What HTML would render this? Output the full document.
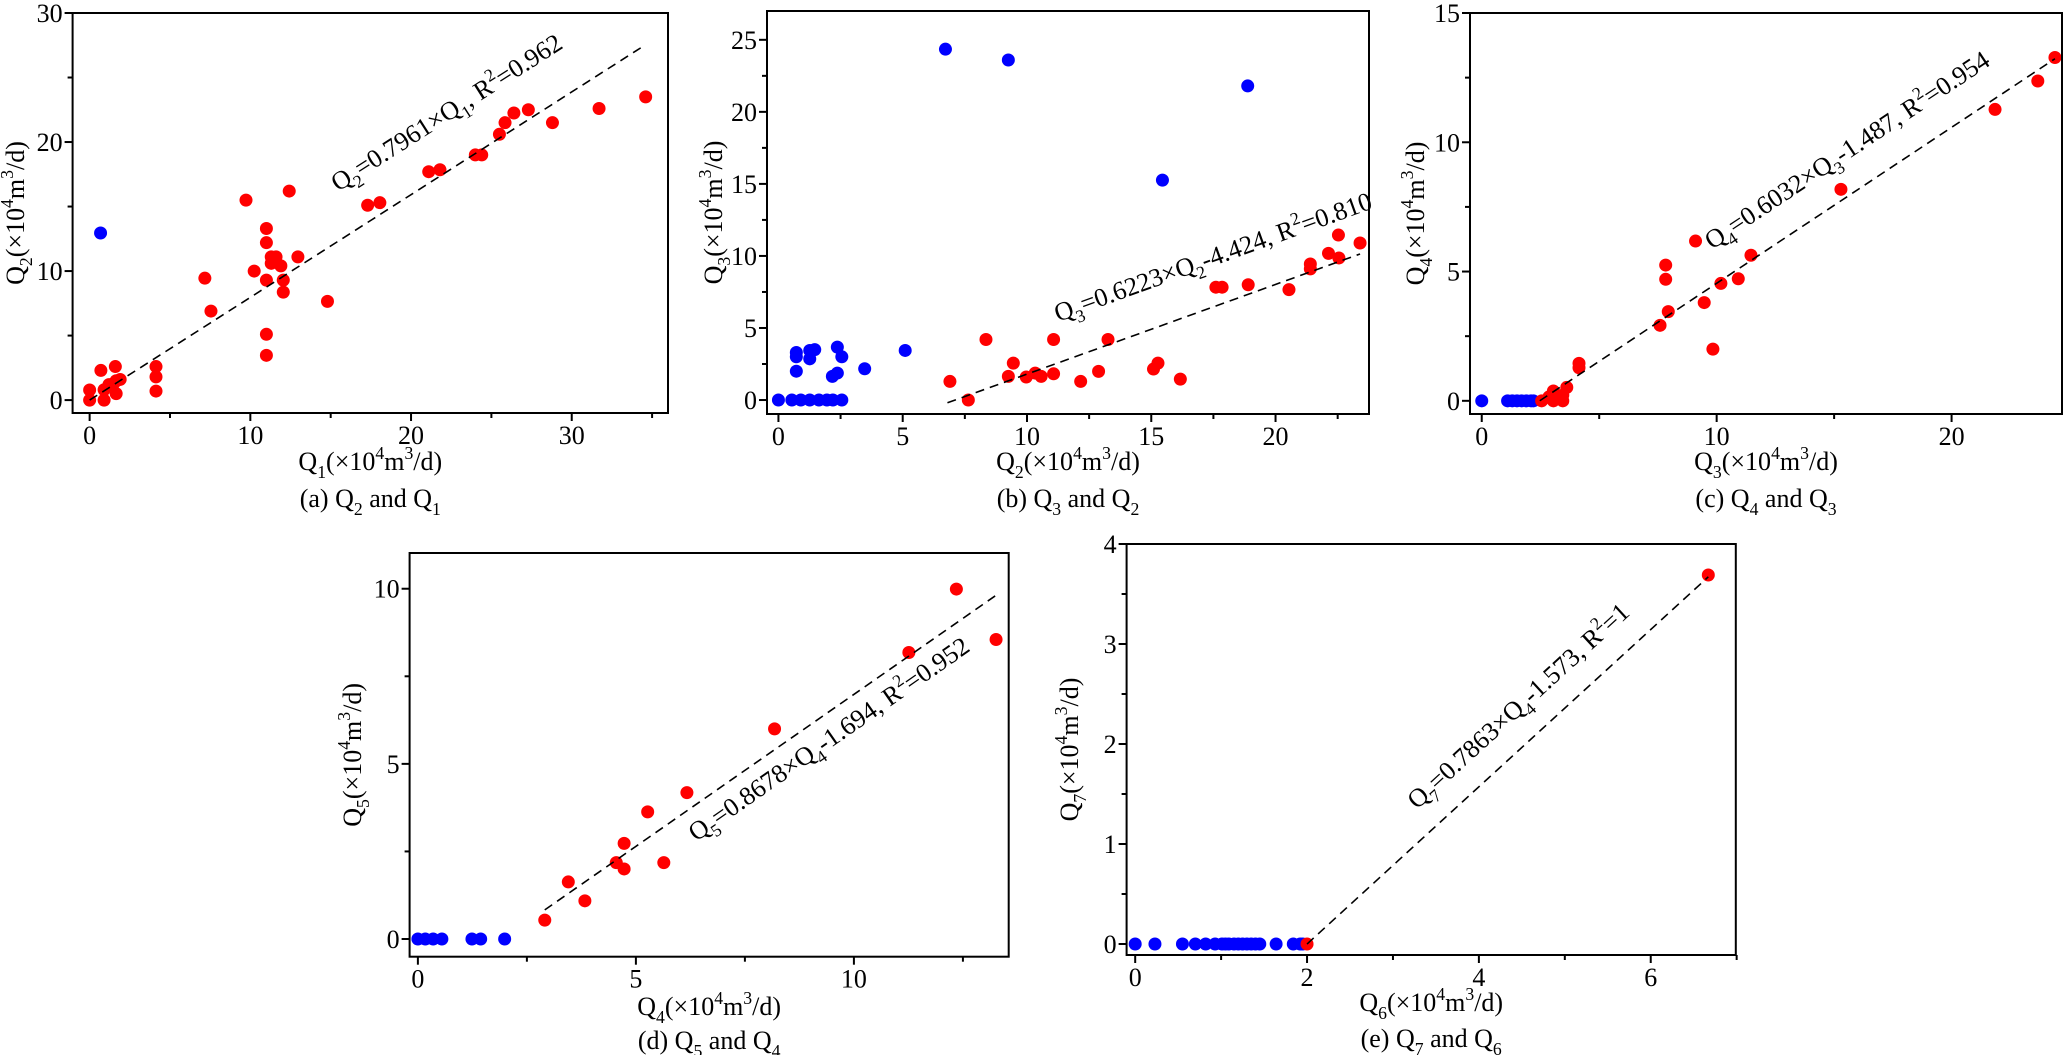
<!DOCTYPE html>
<html><head><meta charset="utf-8"><style>
html,body{margin:0;padding:0;background:#fff;}
svg{display:block;font-family:"Liberation Serif","DejaVu Serif",serif;}
text{font-family:"Liberation Serif","DejaVu Serif",serif;}
</style></head><body>
<svg id="fig" width="2067" height="1055" viewBox="0 0 2067 1055" xmlns="http://www.w3.org/2000/svg" font-family="Liberation Serif, DejaVu Serif, serif"></svg>
<script>
// ---------- DATA ----------
const aRedX=[0,0,0.9,0.7,1.6,1.65,1.65,1.5,1.2,0.9,1.9,4.13,4.13,4.13,7.17,7.55,9.73,10.24,11.0,11.0,11.0,11.0,11.0,11.3,11.6,11.3,11.9,12.05,12.05,12.42,12.96,14.8,17.3,18.06,21.1,21.8,24.0,24.4,25.5,25.85,26.4,27.3,28.8,31.7,34.6];
const aRedY=[0,0.78,0,2.3,2.6,1.5,0.5,1.3,1.2,0.8,1.6,2.6,1.8,0.7,9.45,6.9,15.5,10.0,13.3,12.2,9.3,5.1,3.47,11.1,11.1,10.6,10.4,9.3,8.37,16.2,11.1,7.65,15.1,15.3,17.7,17.85,19.0,19.0,20.6,21.5,22.25,22.5,21.5,22.6,23.5];
const aBlueX=[0.68];
const aBlueY=[12.95];
const bBlueX=[6.72,9.25,18.88,15.45,5.1,3.47,0.72,0.72,1.26,1.26,1.46,2.37,2.55,0.72,2.17,2.37,0,0.54,0.9,1.26,1.63,1.95,2.19,2.55];
const bBlueY=[24.35,23.6,21.8,15.26,3.44,2.17,3.3,3.0,3.44,2.86,3.5,3.67,3.0,2.0,1.64,1.87,0,0,0,0,0,0,0,0];
const bRedX=[6.9,7.64,8.35,9.25,9.45,9.97,10.33,10.57,11.07,11.07,12.16,12.88,13.26,15.09,15.27,16.17,17.6,17.85,18.9,20.54,21.4,21.4,22.13,22.53,22.55,23.4];
const bRedY=[1.29,0,4.2,1.64,2.56,1.6,1.87,1.64,4.2,1.82,1.29,1.99,4.2,2.15,2.56,1.45,7.83,7.83,8.0,7.66,9.44,9.1,10.18,11.45,9.86,10.9];
const cBlueX=[0,1.1,1.3,1.5,1.7,1.9,2.1,2.2];
const cBlueY=[0,0,0,0,0,0,0,0];
const cRedX=[2.55,2.86,3.05,3.05,3.45,3.45,3.62,4.14,4.14,7.59,7.94,7.83,7.83,9.1,9.47,9.84,10.18,10.92,11.46,15.29,21.85,23.67,24.4];
const cRedY=[0,0.15,0.38,0,0,0.22,0.52,1.45,1.28,2.92,3.45,5.25,4.7,6.18,3.8,2.0,4.54,4.72,5.63,8.18,11.27,12.37,13.28];
const dBlueX=[0,0.17,0.35,0.55,1.24,1.44,1.99];
const dBlueY=[0,0,0,0,0,0,0];
const dRedX=[2.91,3.45,3.83,4.55,4.73,4.73,5.64,5.27,6.17,8.18,11.26,12.35,13.26];
const dRedY=[0.54,1.63,1.09,2.18,2.0,2.73,2.18,3.63,4.18,6.0,8.18,9.99,8.55];
const eBlueX=[0,0.23,0.55,0.70,0.82,0.93,1.01,1.05,1.09,1.15,1.2,1.25,1.3,1.35,1.4,1.45,1.64,1.84,1.92,1.95];
const eBlueY=[0,0,0,0,0,0,0,0,0,0,0,0,0,0,0,0,0,0,0,0];
const eRedX=[2.0,6.67];
const eRedY=[0,3.69];
// fit lines: slope, intercept, x-start, x-end
const fitA=[0.7961,0,0,34.6];
const fitB=[0.6223,-4.424,6.8,23.4];
const fitC=[0.6032,-1.487,2.47,24.4];
const fitD=[0.8678,-1.694,2.91,13.32];
const fitE=[0.7863,-1.573,2.0,6.67];
// tick labels
const aXTicks=[0,10,20,30], aYTicks=[0,10,20,30];
const bXTicks=[0,5,10,15,20], bYTicks=[0,5,10,15,20,25];
const cXTicks=[0,10,20], cYTicks=[0,5,10,15];
const dXTicks=[0,5,10], dYTicks=[0,5,10];
const eXTicks=[0,2,4,6], eYTicks=[0,1,2,3,4];

// ---------- LAYOUT ----------
const NS="http://www.w3.org/2000/svg";
const FF="Liberation Serif, DejaVu Serif, serif";
const svg=document.getElementById('fig');
function el(tag,attrs,parent){const e=document.createElementNS(NS,tag);for(const k in attrs)e.setAttribute(k,attrs[k]);if(tag==='text')e.setAttribute('font-family',FF);(parent||svg).appendChild(e);return e;}
function rich(t,str,fs){
  const re=/(_\{[^}]*\}|\^\{[^}]*\})/g;const parts=str.split(re);let shift=0;
  parts.forEach(p=>{if(!p)return;const ts=document.createElementNS(NS,'tspan');let target=0,txt=p,size=fs;
    if(p.startsWith('_{')){target=fs*0.3;txt=p.slice(2,-1);size=fs*0.68;}
    else if(p.startsWith('^{')){target=-fs*0.42;txt=p.slice(2,-1);size=fs*0.68;}
    ts.setAttribute('dy',(target-shift).toFixed(2));shift=target;ts.setAttribute('font-size',size.toFixed(1));ts.textContent=txt;t.appendChild(ts);});
}
const FS=26;
const panels=[
 {id:'a',L:72.6,R:668,T:13,B:413,x0:-1.06,x1:35.99,y0:-1.0,y1:30,xt:aXTicks,xm:[5,15,25,35],yt:aYTicks,ym:[5,15,25],
  red:[aRedX,aRedY],blue:[aBlueX,aBlueY],fit:fitA,xl:'Q_{1}(×10^{4}m^{3}/d)',yl:'Q_{2}(×10^{4}m^{3}/d)',cap:'(a) Q_{2} and Q_{1}',
  eq:'Q_{2}=0.7961×Q_{1}, R^{2}=0.962',eqx:338,eqy:192,ylx:24,xly:470,capy:507},
 {id:'b',L:767,R:1369,T:11,B:414,x0:-0.46,x1:23.76,y0:-0.97,y1:27.0,xt:bXTicks,xm:[2.5,7.5,12.5,17.5,22.5],yt:bYTicks,ym:[2.5,7.5,12.5,17.5,22.5],
  red:[bRedX,bRedY],blue:[bBlueX,bBlueY],fit:fitB,xl:'Q_{2}(×10^{4}m^{3}/d)',yl:'Q_{3}(×10^{4}m^{3}/d)',cap:'(b) Q_{3} and Q_{2}',
  eq:'Q_{3}=0.6223×Q_{2}-4.424, R^{2}=0.810',eqx:1058,eqy:322,ylx:722,xly:470,capy:507},
 {id:'c',L:1470,R:2062,T:13,B:414,x0:-0.5,x1:24.7,y0:-0.51,y1:15.0,xt:cXTicks,xm:[5,15],yt:cYTicks,ym:[2.5,7.5,12.5],
  red:[cRedX,cRedY],blue:[cBlueX,cBlueY],fit:fitC,xl:'Q_{3}(×10^{4}m^{3}/d)',yl:'Q_{4}(×10^{4}m^{3}/d)',cap:'(c) Q_{4} and Q_{3}',
  eq:'Q_{4}=0.6032×Q_{3}-1.487, R^{2}=0.954',eqx:1712,eqy:250,ylx:1424,xly:470,capy:507},
 {id:'d',L:409.6,R:1008.7,T:553,B:956.7,x0:-0.19,x1:13.55,y0:-0.505,y1:11.02,xt:dXTicks,xm:[2.5,7.5,12.5],yt:dYTicks,ym:[2.5,7.5],
  red:[dRedX,dRedY],blue:[dBlueX,dBlueY],fit:fitD,xl:'Q_{4}(×10^{4}m^{3}/d)',yl:'Q_{5}(×10^{4}m^{3}/d)',cap:'(d) Q_{5} and Q_{4}',
  eq:'Q_{5}=0.8678×Q_{4}-1.694, R^{2}=0.952',eqx:696,eqy:842,ylx:361,xly:1015,capy:1049},
 {id:'e',L:1126.6,R:1735.8,T:544,B:955,x0:-0.1,x1:6.99,y0:-0.11,y1:4.0,xt:eXTicks,xm:[1,3,5,7],yt:eYTicks,ym:[0.5,1.5,2.5,3.5],
  red:[eRedX,eRedY],blue:[eBlueX,eBlueY],fit:fitE,xl:'Q_{6}(×10^{4}m^{3}/d)',yl:'Q_{7}(×10^{4}m^{3}/d)',cap:'(e) Q_{7} and Q_{6}',
  eq:'Q_{7}=0.7863×Q_{4}-1.573, R^{2}=1',eqx:1417,eqy:810,ylx:1078,xly:1011,capy:1047}
];
panels.forEach(p=>{
  const g=el('g',{});
  
  
  const sx=v=>p.L+(v-p.x0)/(p.x1-p.x0)*(p.R-p.L);
  const sy=v=>p.B-(v-p.y0)/(p.y1-p.y0)*(p.B-p.T);
  p.xt.forEach(v=>{const x=sx(v);
    const t=el('line',{x1:x,x2:x,y1:p.B,y2:p.B+8,stroke:'#000','stroke-width':2},g);
    
    const lb=el('text',{x:x,y:p.B+31,'text-anchor':'middle','font-size':FS},g);lb.textContent=v;
    });
  p.xm.forEach(v=>{const x=sx(v);if(x>p.R+1)return;el('line',{x1:x,x2:x,y1:p.B,y2:p.B+5,stroke:'#000','stroke-width':2},g);});
  p.yt.forEach(v=>{const y=sy(v);
    const t=el('line',{x1:p.L-8,x2:p.L,y1:y,y2:y,stroke:'#000','stroke-width':2},g);
    
    const lb=el('text',{x:p.L-10,y:y+9,'text-anchor':'end','font-size':FS},g);lb.textContent=v;
    });
  p.ym.forEach(v=>{const y=sy(v);el('line',{x1:p.L-5,x2:p.L,y1:y,y2:y,stroke:'#000','stroke-width':2},g);});
  const [bx,by]=p.blue;bx.forEach((v,i)=>{const c=el('circle',{cx:sx(v),cy:sy(by[i]),r:6.5,fill:'#0000ff'},g);
    });
  const [rx,ry]=p.red;rx.forEach((v,i)=>{const c=el('circle',{cx:sx(v),cy:sy(ry[i]),r:6.5,fill:'#ff0000'},g);
    });
  const [k,b,xa,xb]=p.fit;
  const fl=el('line',{x1:sx(xa),y1:sy(k*xa+b),x2:sx(xb),y2:sy(k*xb+b),stroke:'#000','stroke-width':1.6,'stroke-dasharray':'9 6'},g);
  
  const fr=el('rect',{x:p.L,y:p.T,width:p.R-p.L,height:p.B-p.T,fill:'none',stroke:'#000','stroke-width':2},g);
  
  const ang=Math.atan2(sy(k*xb+b)-sy(k*xa+b),sx(xb)-sx(xa))*180/Math.PI;
  const eq=el('text',{x:p.eqx,y:p.eqy,'font-size':FS,transform:`rotate(${ang.toFixed(2)} ${p.eqx} ${p.eqy})`},g);
  
  rich(eq,p.eq,FS);
  const xt=el('text',{x:(p.L+p.R)/2,y:p.xly,'text-anchor':'middle','font-size':FS},g);
  rich(xt,p.xl,FS);
  const cy=(p.T+p.B)/2;
  const yt=el('text',{x:p.ylx,y:cy,'text-anchor':'middle','font-size':FS,transform:`rotate(-90 ${p.ylx} ${cy})`},g);
  rich(yt,p.yl,FS);
  const cp=el('text',{x:(p.L+p.R)/2,y:p.capy,'text-anchor':'middle','font-size':FS},g);
  rich(cp,p.cap,FS);
});
</script>
</body></html>
